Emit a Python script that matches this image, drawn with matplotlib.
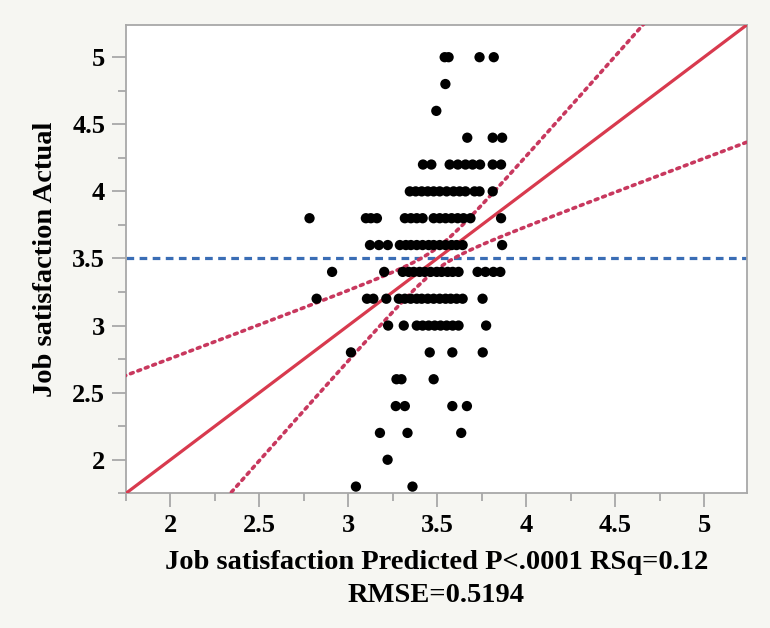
import numpy as np
import matplotlib
matplotlib.use("Agg")
import matplotlib.pyplot as plt
from matplotlib.ticker import FixedLocator

# ---- data ----
actual_levels = [5.0, 4.8, 4.6, 4.4, 4.2, 4.0, 3.8, 3.6, 3.4, 3.2, 3.0, 2.8, 2.6, 2.4, 2.2, 2.0, 1.8]
pred_5_0 = [3.542, 3.564, 3.738, 3.818]
pred_4_8 = [3.546]
pred_4_6 = [3.495]
pred_4_4 = [3.669, 3.812, 3.865]
pred_4_2 = [3.420, 3.467, 3.570, 3.616, 3.659, 3.699, 3.741, 3.812, 3.859]
pred_4_0 = [3.346, 3.379, 3.413, 3.447, 3.480, 3.514, 3.553, 3.592, 3.626, 3.659, 3.710, 3.738, 3.812]
pred_3_8 = [2.782, 3.099, 3.127, 3.161, 3.318, 3.352, 3.385, 3.418, 3.480, 3.514, 3.547, 3.581,
            3.615, 3.648, 3.687, 3.859]
pred_3_6 = [3.122, 3.172, 3.222, 3.290, 3.324, 3.352, 3.385, 3.418, 3.452, 3.480, 3.514, 3.547,
            3.581, 3.609, 3.643, 3.865]
pred_3_4 = [2.909, 3.202, 3.306, 3.340, 3.368, 3.401, 3.430, 3.463, 3.497, 3.525, 3.559, 3.587,
            3.620, 3.727, 3.771, 3.816, 3.855]
pred_3_2 = [2.822, 3.105, 3.141, 3.214, 3.284, 3.318, 3.351, 3.385, 3.413, 3.447, 3.480, 3.514,
            3.547, 3.576, 3.609, 3.643, 3.755]
pred_3_0 = [3.224, 3.312, 3.385, 3.418, 3.452, 3.486, 3.519, 3.553, 3.587, 3.620, 3.775]
pred_2_8 = [3.015, 3.458, 3.585, 3.756]
pred_2_6 = [3.271, 3.299, 3.480]
pred_2_4 = [3.267, 3.318, 3.585, 3.667]
pred_2_2 = [3.178, 3.333, 3.635]
pred_2_0 = [3.221]
pred_1_8 = [3.043, 3.361]
pred_rows = [pred_5_0, pred_4_8, pred_4_6, pred_4_4, pred_4_2, pred_4_0, pred_3_8, pred_3_6,
             pred_3_4, pred_3_2, pred_3_0, pred_2_8, pred_2_6, pred_2_4, pred_2_2, pred_2_0, pred_1_8]

mean_actual = 3.5        # horizontal mean line
fit_slope = 1.0          # actual-by-predicted fit line y = x
band_slope = 0.5         # asymptotic slope offset of confidence curves
band_halfwidth = 0.08    # confidence half-width at the mean

tick_values = [2, 2.5, 3, 3.5, 4, 4.5, 5]
tick_labels = ["2", "2.5", "3", "3.5", "4", "4.5", "5"]
minor_values = [1.75, 2.25, 2.75, 3.25, 3.75, 4.25, 4.75, 5.25]
axis_lo, axis_hi = 1.75, 5.24

xlabel_text = "Job satisfaction Predicted P<.0001 RSq=0.12\nRMSE=0.5194"
ylabel_text = "Job satisfaction Actual"

# ---- build points ----
px, py = [], []
for lvl, row in zip(actual_levels, pred_rows):
    px.extend(row)
    py.extend([lvl] * len(row))

plt.rcParams['font.family'] = ['Liberation Serif', 'DejaVu Serif']
fig = plt.figure(figsize=(7.7, 6.28), dpi=100, facecolor="#f6f6f2")
ax = fig.add_axes([0.1636, 0.2145, 0.8061, 0.7457])
ax.set_facecolor("white")

xs = np.linspace(axis_lo - 0.1, axis_hi + 0.1, 400)
fit = mean_actual + fit_slope * (xs - mean_actual)
half = np.sqrt(band_halfwidth ** 2 + (band_slope * (xs - mean_actual)) ** 2)

ax.axhline(mean_actual, color="#3a6db5", lw=2.3, linestyle=(0, (2.4, 1.7)), zorder=2)
ax.plot(xs, fit, color="#d83a4e", lw=2.3, zorder=3, solid_capstyle="butt")
ax.plot(xs, fit + half, color="#c8385e", lw=2.6, linestyle=(0, (0.8, 1.4)),
        dash_capstyle="round", zorder=3)
ax.plot(xs, fit - half, color="#c8385e", lw=2.6, linestyle=(0, (0.8, 1.4)),
        dash_capstyle="round", zorder=3)
ax.scatter(px, py, s=55, color="black", edgecolors="none", zorder=4)

ax.set_xlim(axis_lo, axis_hi)
ax.set_ylim(axis_lo, axis_hi)
for a in (ax.xaxis, ax.yaxis):
    a.set_major_locator(FixedLocator(tick_values))
    a.set_minor_locator(FixedLocator(minor_values))
ax.set_xticklabels(tick_labels)
ax.set_yticklabels(tick_labels)

gray = "#a8a8a8"
for s in ax.spines.values():
    s.set_color(gray)
    s.set_linewidth(1.3)
ax.tick_params(which="major", length=10, width=1.3, color=gray, direction="out",
               labelsize=19, pad=5)
ax.tick_params(which="minor", length=5.5, width=1.3, color=gray, direction="out")
for lab in ax.get_xticklabels() + ax.get_yticklabels():
    lab.set_fontweight("bold")

ax.set_xlabel(xlabel_text, fontsize=20.5, fontweight="bold", linespacing=1.45, labelpad=9)
ax.set_ylabel(ylabel_text, fontsize=20.5, fontweight="bold", labelpad=10)

fig.savefig("out.png", dpi=100, facecolor=fig.get_facecolor())
